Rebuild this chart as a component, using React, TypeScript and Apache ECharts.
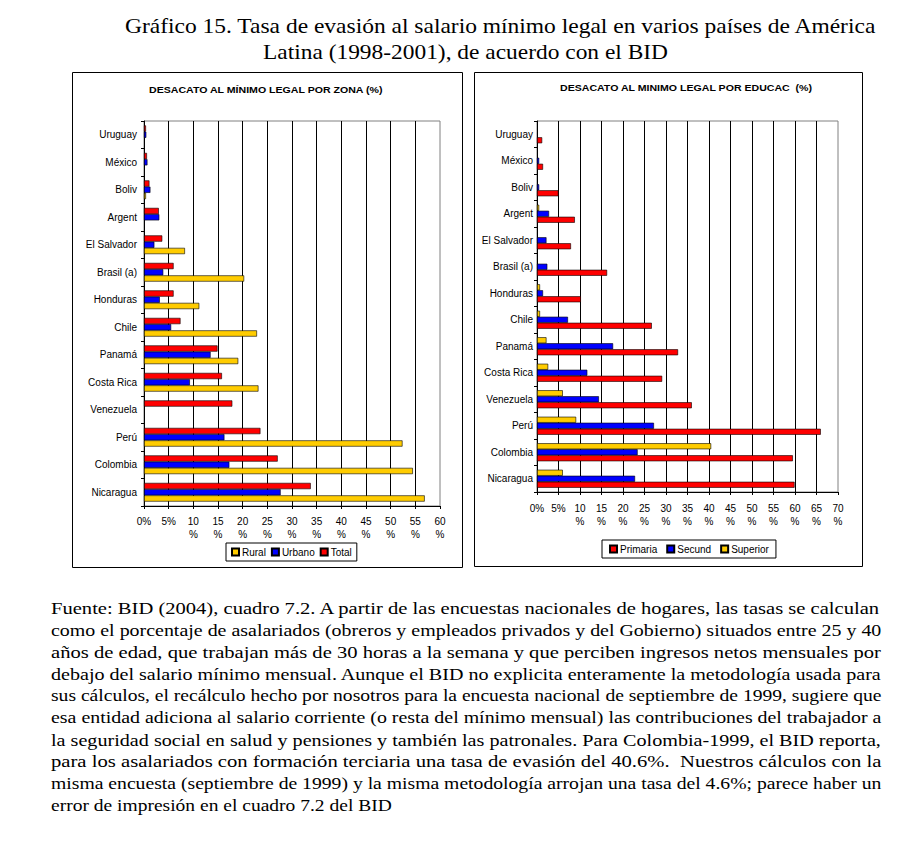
import React, { useEffect, useRef } from "react";
import * as echarts from "echarts";

const countries = [
  "Uruguay", "México", "Boliv", "Argent", "El Salvador", "Brasil (a)", "Honduras",
  "Chile", "Panamá", "Costa Rica", "Venezuela", "Perú", "Colombia", "Nicaragua",
];

// Left chart: by zone (%)
const zonaTotal = [0.4, 0.6, 1.1, 3.0, 3.7, 6.0, 6.0, 7.4, 14.9, 15.8, 17.9, 23.6, 27.1, 33.8];
const zonaUrbano = [0.47, 0.7, 1.3, 3.1, 2.1, 3.9, 3.2, 5.5, 13.5, 9.3, null, 16.3, 17.3, 27.7];
const zonaRural = [null, null, 0.4, null, 8.3, 20.3, 11.2, 22.9, 19.1, 23.2, null, 52.4, 54.5, 56.9];

// Right chart: by education (%)
const eduPrimaria = [1.2, 1.4, 5.0, 8.8, 7.9, 16.3, 10.2, 26.7, 32.8, 29.1, 36.0, 66.0, 59.5, 59.9];
const eduSecund = [null, 0.5, 0.5, 2.8, 2.2, 2.4, 1.4, 7.2, 17.7, 11.7, 14.4, 27.2, 23.4, 22.8];
const eduSuperior = [null, null, null, 0.5, null, null, 0.7, 0.7, 2.2, 2.6, 6.0, 9.1, 40.5, 6.0];

const zonaLegend = ["Rural", "Urbano", "Total"];
const eduLegend = ["Primaria", "Secund", "Superior"];

const chartTitleZona = "DESACATO AL MÍNIMO LEGAL POR ZONA (%)";
const chartTitleEdu = "DESACATO AL MINIMO LEGAL POR EDUCAC  (%)";

const titleLines = [
  "Gráfico 15. Tasa de evasión al salario mínimo legal en varios países de América",
  "Latina (1998-2001), de acuerdo con el BID",
];

const noteLines = [
  "Fuente: BID (2004), cuadro 7.2. A partir de las encuestas nacionales de hogares, las tasas se calculan",
  "como el porcentaje de asalariados (obreros y empleados privados y del Gobierno) situados entre 25 y 40",
  "años de edad, que trabajan más de 30 horas a la semana y que perciben ingresos netos mensuales por",
  "debajo del salario mínimo mensual. Aunque el BID no explicita enteramente la metodología usada para",
  "sus cálculos, el recálculo hecho por nosotros para la encuesta nacional de septiembre de 1999, sugiere que",
  "esa entidad adiciona al salario corriente (o resta del mínimo mensual) las contribuciones del trabajador a",
  "la seguridad social en salud y pensiones y también las patronales. Para Colombia-1999, el BID reporta,",
  "para los asalariados con formación terciaria una tasa de evasión del 40.6%.  Nuestros cálculos con la",
  "misma encuesta (septiembre de 1999) y la misma metodología arrojan una tasa del 4.6%; parece haber un",
  "error de impresión en el cuadro 7.2 del BID",
];

const RED = "#FF0000";
const BLUE = "#0000FF";
const YELLOW = "#FFCC00";
const SANS = "Liberation Sans";
const SERIF = "Liberation Serif";

export default function App() {
  const ref = useRef<HTMLDivElement>(null);

  useEffect(() => {
    if (!ref.current) return;
    document.body.style.margin = "0";
    const chart = echarts.init(ref.current, null, { renderer: "svg", width: 915, height: 843 });

    const canvas = document.createElement("canvas");
    const ctx = canvas.getContext("2d")!;
    const measure = (t: string, size: number, family: string, bold = false) => {
      ctx.font = `${bold ? "bold " : ""}${size}px '${family}'`;
      return ctx.measureText(t).width;
    };

    const graphics: any[] = [];
    // boxes
    graphics.push({
      type: "rect", shape: { x: 72.5, y: 72.5, width: 390, height: 495 },
      style: { fill: "none", stroke: "#000", lineWidth: 1 }, silent: true,
    });
    graphics.push({
      type: "rect", shape: { x: 474.5, y: 72.5, width: 388, height: 494 },
      style: { fill: "none", stroke: "#000", lineWidth: 1 }, silent: true,
    });

    const addFitted = (text: string, x: number, y: number, width: number, size: number, family: string, bold = false) => {
      const w = measure(text, size, family, bold);
      const sx = width / w;
      graphics.push({
        type: "text",
        x, y, scaleX: sx, scaleY: 1,
        style: {
          text, fill: "#000", fontSize: size, fontFamily: family,
          fontWeight: bold ? "bold" : "normal",
          align: "left", verticalAlign: "middle",
        },
        silent: true,
      });
    };

    // chart titles
    addFitted(chartTitleZona, 149, 90, 235, 9.5, SANS, true);
    addFitted(chartTitleEdu, 560, 88, 253, 9.5, SANS, true);

    // main title
    const titleSize = 21;
    addFitted(titleLines[0], 125, 26, 753, titleSize, SERIF);
    addFitted(titleLines[1], 263, 52, 405, titleSize, SERIF);

    // note paragraph (justified lines, last line natural)
    const noteSize = 17;
    noteLines.forEach((line, i) => {
      const y = 608 + i * 21.95;
      if (i < noteLines.length - 1) {
        addFitted(line, 51, y, 831, noteSize, SERIF);
      } else {
        const w = measure(line, noteSize, SERIF) * 1.148;
        addFitted(line, 51, y, w, noteSize, SERIF);
      }
    });

    const pctFormatter = (v: number) => (v < 10 ? `${v}%` : `${v}\n%`);

    const xAxisCommon = (max: number, margin: number) => ({
      type: "value",
      min: 0,
      max,
      interval: 5,
      axisLine: { show: true, lineStyle: { color: "#000", width: 1 } },
      axisTick: { show: true, length: 3, lineStyle: { color: "#000" } },
      splitLine: { show: true, showMaxLine: false, lineStyle: { color: "#000", width: 1 } },
      axisLabel: {
        formatter: pctFormatter,
        fontSize: 10,
        lineHeight: 13,
        fontFamily: SANS,
        color: "#000",
        margin,
      },
    });

    const yAxisCommon = (margin: number) => ({
      type: "category",
      data: countries,
      inverse: true,
      axisLine: { show: true, lineStyle: { color: "#000", width: 1 } },
      axisTick: { show: true, length: 3, lineStyle: { color: "#000" } },
      axisLabel: { fontSize: 10, fontFamily: SANS, color: "#000", margin },
      splitLine: { show: false },
    });

    const bar = (name: string, data: (number | null)[], color: string, idx: number) => ({
      type: "bar",
      name,
      data,
      xAxisIndex: idx,
      yAxisIndex: idx,
      barGap: "0%",
      barCategoryGap: "32%",
      itemStyle: { color, borderColor: "#000", borderWidth: 0.6 },
      emphasis: { disabled: true },
    });

    const legendCommon = {
      orient: "horizontal",
      borderColor: "#000",
      borderWidth: 1,
      padding: [4, 5, 4, 5],
      itemGap: 5,
      itemWidth: 7,
      itemHeight: 7,
      icon: "rect",
      selectedMode: false,
      textStyle: { fontSize: 10, fontFamily: SANS, color: "#000", padding: [0, 0, 0, -2] },
    };

    const option: any = {
      animation: false,
      backgroundColor: "#fff",
      grid: [
        { left: 144, top: 121, width: 296, height: 385, show: true, borderColor: "#808080", borderWidth: 1, backgroundColor: "transparent" },
        { left: 537, top: 121, width: 301, height: 371, show: true, borderColor: "#808080", borderWidth: 1, backgroundColor: "transparent" },
      ],
      xAxis: [
        { ...xAxisCommon(60, 9), gridIndex: 0 },
        { ...xAxisCommon(70, 10), gridIndex: 1 },
      ],
      yAxis: [
        { ...yAxisCommon(7), gridIndex: 0 },
        { ...yAxisCommon(4), gridIndex: 1 },
      ],
      legend: [
        { ...legendCommon, left: 226, top: 543, data: zonaLegend },
        { ...legendCommon, left: 602, top: 540, itemGap: 9, padding: [4, 7, 4, 7], data: eduLegend },
      ],
      tooltip: { show: false },
      series: [
        bar("Total", zonaTotal, RED, 0),
        bar("Urbano", zonaUrbano, BLUE, 0),
        bar("Rural", zonaRural, YELLOW, 0),
        bar("Superior", eduSuperior, YELLOW, 1),
        bar("Secund", eduSecund, BLUE, 1),
        bar("Primaria", eduPrimaria, RED, 1),
      ],
      graphic: graphics,
    };

    chart.setOption(option);
    return () => chart.dispose();
  }, []);

  return (
    <div style={{ position: "fixed", left: 0, top: 0, width: 915, height: 843, background: "#fff" }}>
      <div ref={ref} style={{ width: 915, height: 843 }} />
    </div>
  );
}
